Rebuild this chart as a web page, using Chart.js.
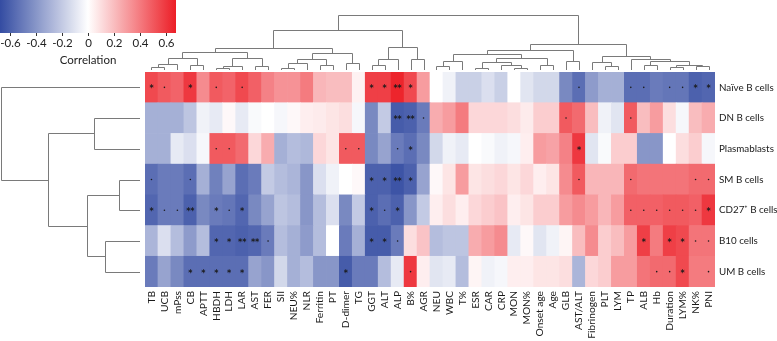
<!DOCTYPE html>
<html>
<head>
<meta charset="utf-8">
<script src="https://cdn.jsdelivr.net/npm/chart.js@4.4.1/dist/chart.umd.min.js"></script>
<style>
  body { margin: 0; background: #fff; }
</style>
</head>
<body>
<canvas id="heat" width="777" height="341"></canvas>
<script>
// column labels, in dendrogram order
const columnLabels = ["TB", "UCB", "mPss", "CB", "APTT", "HBDH", "LDH", "LAR", "AST", "FER", "SII", "NEU%", "NLR",
  "Ferritin", "PT", "D-dimer", "TG", "GGT", "ALT", "ALP", "B%", "AGR", "NEU", "WBC", "T%", "ESR", "CAR", "CRP",
  "MON", "MON%", "Onset age", "Age", "GLB", "AST/ALT", "Fibrinogen", "PLT", "LYM", "TP", "ALB", "Hb", "Duration",
  "LYM%", "NK%", "PNI"];

const rowNames = ["Naïve B cells", "DN B cells", "Plasmablasts", "SM B cells", "CD27⁺ B cells", "B10 cells", "UM B cells"];

// correlation values per row
const naive = [0.55, 0.5, 0.47, 0.6, 0.35, 0.5, 0.47, 0.55, 0.48, 0.38, 0.33, 0.33, 0.4, 0.22, 0.2, 0.2, 0.04,
  0.58, 0.58, 0.66, 0.55, 0.3, 0.0, -0.05, -0.18, -0.18, -0.12, -0.18, 0.0, -0.1, -0.15, -0.15, -0.45, -0.55,
  -0.38, -0.3, -0.3, -0.55, -0.55, -0.5, -0.52, -0.52, -0.6, -0.58];
const dnB = [-0.3, -0.3, -0.3, -0.22, -0.05, -0.08, 0.02, -0.08, -0.02, 0.0, -0.03, 0.02, 0.05, 0.06, 0.08, 0.1, -0.03,
  -0.45, -0.2, -0.62, -0.6, -0.5, 0.25, 0.3, 0.4, 0.12, 0.12, 0.12, 0.1, 0.06, 0.15, 0.15, 0.5, 0.45,
  0.2, -0.05, -0.1, 0.5, 0.2, 0.3, 0.1, -0.03, 0.2, 0.25];
const plasmablasts = [-0.3, -0.3, -0.08, -0.12, -0.03, 0.5, 0.5, 0.45, 0.12, 0.25, -0.3, -0.25, -0.27, 0.12, 0.08, 0.5, 0.5,
  -0.45, -0.35, -0.5, -0.55, -0.45, -0.15, -0.05, -0.08, 0.0, -0.02, -0.05, -0.03, 0.05, 0.3, 0.28, 0.38, 0.6,
  -0.1, -0.02, 0.15, 0.15, -0.4, -0.4, 0.0, 0.1, 0.15, -0.03];
const smB = [-0.55, -0.5, -0.5, -0.55, -0.3, -0.48, -0.35, -0.55, -0.5, -0.2, -0.25, -0.28, -0.4, -0.12, -0.05, 0.0, 0.02,
  -0.6, -0.6, -0.65, -0.6, -0.35, 0.02, 0.08, 0.3, 0.08, 0.1, 0.12, 0.08, 0.12, 0.05, 0.08, 0.35, 0.5,
  0.22, 0.22, 0.22, 0.45, 0.42, 0.42, 0.42, 0.42, 0.45, 0.45];
const cd27B = [-0.58, -0.5, -0.5, -0.6, -0.45, -0.5, -0.52, -0.58, -0.45, -0.35, -0.22, -0.25, -0.4, -0.25, -0.12, -0.45, -0.2,
  -0.6, -0.55, -0.6, -0.4, -0.2, 0.05, 0.1, 0.05, 0.12, 0.15, 0.18, 0.05, 0.08, 0.15, 0.15, 0.3, 0.35,
  0.3, 0.22, 0.3, 0.48, 0.48, 0.48, 0.5, 0.5, 0.48, 0.6];
const b10 = [-0.28, -0.12, -0.25, -0.38, -0.25, -0.58, -0.58, -0.6, -0.58, -0.5, -0.25, -0.3, -0.38, -0.25, 0.0, -0.5, -0.3,
  -0.62, -0.62, -0.5, 0.1, 0.18, -0.25, -0.22, -0.22, 0.25, 0.3, 0.35, -0.08, 0.02, -0.1, -0.05, 0.03, 0.2,
  0.35, 0.15, 0.2, 0.3, 0.58, 0.4, 0.58, 0.55, 0.42, 0.42];
const umB = [-0.5, -0.35, -0.45, -0.55, -0.55, -0.55, -0.55, -0.55, -0.35, -0.4, -0.15, -0.3, -0.25, -0.4, -0.4, -0.62, -0.5,
  -0.5, -0.25, -0.08, 0.6, 0.05, -0.1, -0.08, -0.25, 0.03, -0.05, -0.03, 0.05, 0.05, 0.08, 0.08, 0.1, -0.28,
  0.12, 0.15, 0.3, 0.3, 0.42, 0.45, 0.45, 0.55, 0.4, 0.4];

const rowValues = [naive, dnB, plasmablasts, smB, cd27B, b10, umB];

// significance marks: [row, column, mark]
const sigMarks = [
  [0, 0, "*"], [0, 1, "·"], [0, 3, "*"], [0, 5, "·"], [0, 7, "·"], [0, 17, "*"], [0, 18, "*"], [0, 19, "**"],
  [0, 20, "*"], [0, 33, "·"], [0, 37, "·"], [0, 38, "·"], [0, 40, "·"], [0, 41, "·"], [0, 42, "*"], [0, 43, "*"],
  [1, 19, "**"], [1, 20, "**"], [1, 21, "·"], [1, 32, "·"], [1, 37, "·"],
  [2, 5, "·"], [2, 6, "·"], [2, 15, "·"], [2, 16, "·"], [2, 19, "·"], [2, 20, "*"], [2, 33, "*"],
  [3, 0, "·"], [3, 3, "·"], [3, 17, "*"], [3, 18, "*"], [3, 19, "**"], [3, 20, "*"], [3, 33, "·"], [3, 37, "·"],
  [3, 42, "·"], [3, 43, "·"],
  [4, 0, "*"], [4, 1, "·"], [4, 2, "·"], [4, 3, "**"], [4, 5, "*"], [4, 6, "·"], [4, 7, "*"], [4, 17, "*"],
  [4, 18, "·"], [4, 19, "*"], [4, 37, "·"], [4, 38, "·"], [4, 39, "·"], [4, 40, "·"], [4, 41, "·"], [4, 42, "·"],
  [4, 43, "*"],
  [5, 5, "*"], [5, 6, "*"], [5, 7, "**"], [5, 8, "**"], [5, 9, "·"], [5, 17, "*"], [5, 18, "*"], [5, 19, "·"],
  [5, 38, "*"], [5, 40, "*"], [5, 41, "*"], [5, 42, "·"], [5, 43, "·"],
  [6, 3, "*"], [6, 4, "*"], [6, 5, "*"], [6, 6, "*"], [6, 7, "*"], [6, 15, "*"], [6, 20, "·"], [6, 39, "·"],
  [6, 40, "·"], [6, 41, "*"], [6, 43, "·"]
];

// clustering trees: [left, right, mergeHeight], leaves are indices
const colTree = [
  [
    [
      [[[[0, 1, 0.06], 2, 0.11], [3, 4, 0.1], 0.21], [[[5, 6, 0.03], 7, 0.08], [8, 9, 0.08], 0.22], 0.33],
      [[[[10, 11, 0.03], 12, 0.12], [13, 14, 0.09], 0.2], [15, 16, 0.13], 0.31],
      0.40
    ],
    [[[17, 18, 0.1], 19, 0.2], [20, 21, 0.2], 0.41],
    0.72
  ],
  [
    [
      [[[22, 23, 0.08], 24, 0.17], [[[25, 26, 0.03], [27, [28, 29, 0.04], 0.1], 0.14], [30, 31, 0.09], 0.22], 0.3],
      [32, 33, 0.16],
      0.37
    ],
    [[34, [35, 36, 0.08], 0.15], [37, [[38, 39, 0.1], [[40, 41, 0.05], [42, 43, 0.07], 0.1], 0.16], 0.2], 0.26],
    0.48
  ],
  1.0
];
const rowTree = [0, [[1, 2, 0.33], [[3, 4, 0.15], [5, 6, 0.25], 0.38], 0.66], 1.0];

const colorbarTicks = [-0.6, -0.4, -0.2, 0, 0.2, 0.4, 0.6];
const colorLimit = 0.68;

const FONT = "Lato, 'Noto Sans', sans-serif";
const blueEnd = [52, 76, 162];
const redEnd = [236, 30, 38];

function corrColor(v) {
  const t = Math.max(-1, Math.min(1, v / colorLimit));
  const end = t < 0 ? blueEnd : redEnd;
  const a = Math.abs(t);
  const c = end.map(e => Math.round(255 + (e - 255) * a));
  return `rgb(${c[0]},${c[1]},${c[2]})`;
}

// one stacked bar per row, bottom row first
const datasets = [];
for (let r = rowNames.length - 1; r >= 0; r--) {
  datasets.push({
    label: rowNames[r],
    data: columnLabels.map(() => 1),
    backgroundColor: rowValues[r].map(corrColor),
    borderWidth: 0,
    barPercentage: 1,
    categoryPercentage: 1
  });
}

function rowCenter(yScale, r) {
  return yScale.getPixelForValue(rowNames.length - r - 0.5);
}

const marksPlugin = {
  id: "marks",
  afterDatasetsDraw(chart) {
    const { ctx, scales: { x, y } } = chart;
    ctx.save();
    ctx.fillStyle = "#1a1a1a";
    ctx.textAlign = "center";
    ctx.textBaseline = "middle";
    ctx.font = "bold 8px 'DejaVu Sans', sans-serif";
    sigMarks.forEach(([r, c, m]) => {
      const px = x.getPixelForValue(c);
      const py = rowCenter(y, r);
      if (m === "·") {
        ctx.beginPath();
        ctx.arc(px, py, 0.8, 0, Math.PI * 2);
        ctx.fill();
      } else {
        ctx.fillText(m, px, py + 2);
      }
    });
    ctx.restore();
  }
};

const dendroPlugin = {
  id: "dendro",
  afterDraw(chart) {
    const { ctx, chartArea, scales: { x, y } } = chart;
    ctx.save();
    ctx.strokeStyle = "#7a7a7a";
    ctx.lineWidth = 1;

    // column dendrogram, leaves just above the heatmap
    const leafY = chartArea.top - 2;
    const colUnit = 55;
    function drawCol(node) {
      if (!Array.isArray(node)) return { px: x.getPixelForValue(node), py: leafY };
      const a = drawCol(node[0]), b = drawCol(node[1]);
      const ny = Math.round(leafY - node[2] * colUnit) + 0.5;
      const ax = Math.round(a.px) + 0.5, bx = Math.round(b.px) + 0.5;
      ctx.beginPath();
      ctx.moveTo(ax, a.py); ctx.lineTo(ax, ny); ctx.lineTo(bx, ny); ctx.lineTo(bx, b.py);
      ctx.stroke();
      return { px: (a.px + b.px) / 2, py: ny };
    }
    drawCol(colTree);

    // row dendrogram, leaves left of the heatmap
    const leafX = chartArea.left - 5;
    const rowUnit = 139;
    function drawRow(node) {
      if (!Array.isArray(node)) return { px: leafX, py: rowCenter(y, node) };
      const a = drawRow(node[0]), b = drawRow(node[1]);
      const nx = Math.round(leafX - node[2] * rowUnit) + 0.5;
      const ay = Math.round(a.py) + 0.5, by = Math.round(b.py) + 0.5;
      ctx.beginPath();
      ctx.moveTo(a.px, ay); ctx.lineTo(nx, ay); ctx.lineTo(nx, by); ctx.lineTo(b.px, by);
      ctx.stroke();
      return { px: nx, py: (a.py + b.py) / 2 };
    }
    drawRow(rowTree);
    ctx.restore();
  }
};

const colorbarPlugin = {
  id: "colorbar",
  afterDraw(chart) {
    const ctx = chart.ctx;
    const left = 0, top = 0, w = 176, h = 33;
    const toX = v => left + (v + colorLimit) / (2 * colorLimit) * w;
    ctx.save();
    const grad = ctx.createLinearGradient(left, 0, left + w, 0);
    for (let i = 0; i <= 20; i++) {
      const v = -colorLimit + i * colorLimit / 10;
      grad.addColorStop(i / 20, corrColor(v));
    }
    ctx.fillStyle = grad;
    ctx.fillRect(left, top, w, h);
    ctx.strokeStyle = "#333";
    ctx.fillStyle = "#222";
    ctx.font = "11.5px " + FONT;
    ctx.textAlign = "center";
    ctx.textBaseline = "middle";
    colorbarTicks.forEach(v => {
      const px = Math.round(toX(v)) + 0.5;
      ctx.beginPath();
      ctx.moveTo(px, top + h); ctx.lineTo(px, top + h + 3);
      ctx.stroke();
      ctx.fillText(v === 0 ? "0" : v.toFixed(1), px, top + h + 10);
    });
    ctx.fillText("Correlation", left + w / 2, 60);
    ctx.restore();
  }
};

new Chart(document.getElementById("heat"), {
  type: "bar",
  data: { labels: columnLabels, datasets },
  options: {
    responsive: false,
    animation: false,
    devicePixelRatio: 1,
    layout: { padding: { left: 145, top: 72, right: 0, bottom: 0 } },
    plugins: { legend: { display: false }, tooltip: { enabled: false } },
    scales: {
      x: {
        stacked: true,
        grid: { display: false, drawTicks: false },
        border: { display: false },
        ticks: {
          autoSkip: false,
          minRotation: 90,
          maxRotation: 90,
          padding: 4,
          color: "#1a1a1a",
          font: { family: FONT, size: 10.2 }
        },
        afterFit(scale) { scale.height = 54; }
      },
      y: {
        stacked: true,
        position: "right",
        min: 0,
        max: rowNames.length,
        grid: { display: false, drawTicks: false },
        border: { display: false },
        afterBuildTicks(scale) {
          scale.ticks = rowNames.map((n, i) => ({ value: i + 0.5 }));
        },
        ticks: {
          padding: 4,
          color: "#1a1a1a",
          font: { family: FONT, size: 9.8 },
          callback: v => rowNames[rowNames.length - 1 - Math.floor(v)]
        },
        afterFit(scale) { scale.width = 62; }
      }
    }
  },
  plugins: [marksPlugin, dendroPlugin, colorbarPlugin]
});
</script>
</body>
</html>
